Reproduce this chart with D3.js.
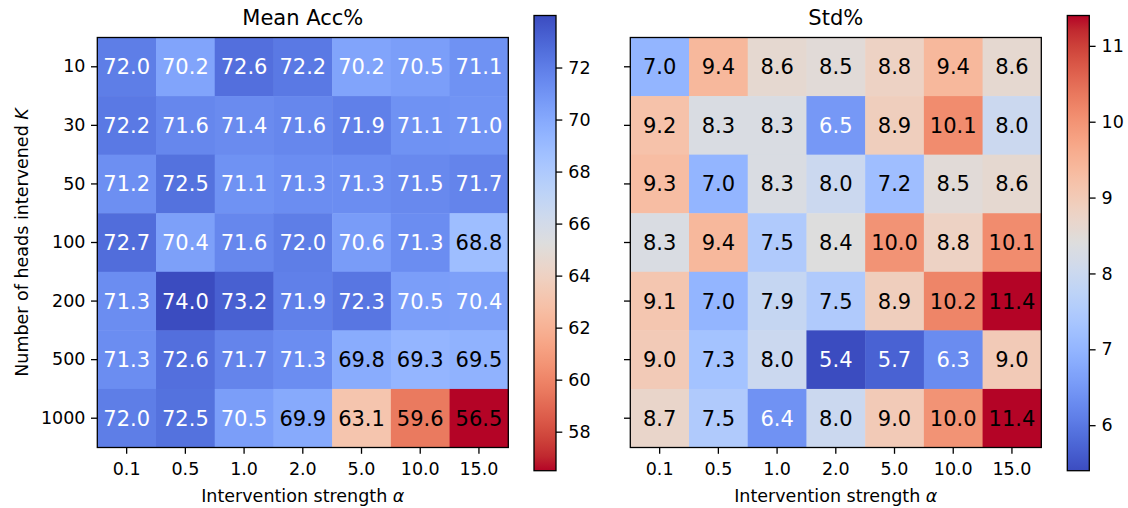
<!DOCTYPE html>
<html>
<head>
<meta charset="utf-8">
<script src="https://cdn.jsdelivr.net/npm/d3@7"></script>
<style>
    body { margin: 0; background: #fff; }
    svg text { font-family: "DejaVu Sans", sans-serif; fill: #000; }
</style>
</head>
<body>
<div id="chart"></div>
<script>
const alphaLabels = ["0.1", "0.5", "1.0", "2.0", "5.0", "10.0", "15.0"];
const headCounts = ["10", "30", "50", "100", "200", "500", "1000"];

const meanAcc = [
    [72.0, 70.2, 72.6, 72.2, 70.2, 70.5, 71.1],
    [72.2, 71.6, 71.4, 71.6, 71.9, 71.1, 71.0],
    [71.2, 72.5, 71.1, 71.3, 71.3, 71.5, 71.7],
    [72.7, 70.4, 71.6, 72.0, 70.6, 71.3, 68.8],
    [71.3, 74.0, 73.2, 71.9, 72.3, 70.5, 70.4],
    [71.3, 72.6, 71.7, 71.3, 69.8, 69.3, 69.5],
    [72.0, 72.5, 70.5, 69.9, 63.1, 59.6, 56.5]
];

const stdAcc = [
    [7.0, 9.4, 8.6, 8.5, 8.8, 9.4, 8.6],
    [9.2, 8.3, 8.3, 6.5, 8.9, 10.1, 8.0],
    [9.3, 7.0, 8.3, 8.0, 7.2, 8.5, 8.6],
    [8.3, 9.4, 7.5, 8.4, 10.0, 8.8, 10.1],
    [9.1, 7.0, 7.9, 7.5, 8.9, 10.2, 11.4],
    [9.0, 7.3, 8.0, 5.4, 5.7, 6.3, 9.0],
    [8.7, 7.5, 6.4, 8.0, 9.0, 10.0, 11.4]
];

const accTicks = [58, 60, 62, 64, 66, 68, 70, 72];
const stdTicks = [6, 7, 8, 9, 10, 11];

// matplotlib "coolwarm" (Moreland), blue -> red
const coolwarmStops = [
    "rgb(59,76,192)", "rgb(68,90,204)", "rgb(77,104,215)", "rgb(87,117,225)",
    "rgb(98,130,234)", "rgb(108,142,241)", "rgb(119,154,247)", "rgb(130,165,251)",
    "rgb(141,176,254)", "rgb(152,185,255)", "rgb(163,194,255)", "rgb(174,201,253)",
    "rgb(184,208,249)", "rgb(194,213,244)", "rgb(204,217,238)", "rgb(213,219,230)",
    "rgb(221,221,221)", "rgb(229,216,209)", "rgb(236,211,198)", "rgb(241,204,185)",
    "rgb(245,196,173)", "rgb(247,187,160)", "rgb(247,177,148)", "rgb(247,166,135)",
    "rgb(244,154,123)", "rgb(241,141,111)", "rgb(236,127,99)", "rgb(229,112,88)",
    "rgb(222,96,77)", "rgb(213,80,66)", "rgb(203,62,56)", "rgb(192,40,47)",
    "rgb(180,4,38)"
];

const coolwarm = d3.scaleLinear()
    .domain(coolwarmStops.map((d, i) => i / (coolwarmStops.length - 1)))
    .range(coolwarmStops)
    .interpolate(d3.interpolateRgb)
    .clamp(true);

const width = 1128, height = 508;
const tickLen = 6.3;

function heatmap() {

    let left = 0,
        top = 37.5,
        size = 411,
        cbLeft = 0,
        cbTop = 15.5,
        cbHeight = 455.2,
        cbWidth = 22,
        title = "",
        values = [],
        colorTicks = [],
        reversed = false,
        rowLabels = true;

    function chart(selection) {
        selection.each(function () {
            const svg = d3.select(this);
            const g = svg.append("g");

            const extent = d3.extent(values.flat());
            // position in the colormap, 0 = blue end
            const norm = d3.scaleLinear()
                .domain(extent)
                .range(reversed ? [1, 0] : [0, 1]);

            const xScale = d3.scaleBand()
                .domain(alphaLabels)
                .range([left, left + size]);

            const yScale = d3.scaleBand()
                .domain(headCounts)
                .range([top, top + size - 1]);

            const cells = [];
            values.forEach((row, i) => row.forEach((v, j) => {
                cells.push({row: headCounts[i], col: alphaLabels[j], value: v});
            }));

            g.append("g")
                .selectAll("rect")
                .data(cells)
                .enter().append("rect")
                .attr("x", d => xScale(d.col))
                .attr("y", d => yScale(d.row))
                .attr("width", xScale.bandwidth() + 0.5)
                .attr("height", yScale.bandwidth() + 0.5)
                .attr("fill", d => coolwarm(norm(d.value)));

            g.append("g")
                .selectAll("text")
                .data(cells)
                .enter().append("text")
                .attr("x", d => xScale(d.col) + xScale.bandwidth() / 2)
                .attr("y", d => yScale(d.row) + yScale.bandwidth() / 2)
                .attr("dy", "0.36em")
                .attr("text-anchor", "middle")
                .style("font-size", "21px")
                .style("fill", d => norm(d.value) < 0.225 ? "#fff" : "#000")
                .text(d => d.value.toFixed(1));

            g.append("rect")
                .attr("x", left)
                .attr("y", top)
                .attr("width", size)
                .attr("height", size - 1)
                .attr("fill", "none")
                .attr("stroke", "#000")
                .attr("stroke-width", 1.3);

            const xAxis = d3.axisBottom(xScale)
                .tickSize(tickLen)
                .tickPadding(8.5)
                .tickSizeOuter(0);

            const gXAxis = g.append("g")
                .attr("class", "x axis")
                .attr("transform", `translate(0,${top + size - 1})`)
                .call(xAxis);

            const yAxis = d3.axisLeft(yScale)
                .tickSize(tickLen)
                .tickPadding(5.5)
                .tickSizeOuter(0);
            if (!rowLabels) yAxis.tickFormat("");

            const gYAxis = g.append("g")
                .attr("class", "y axis")
                .attr("transform", `translate(${left},0)`)
                .call(yAxis);

            [gXAxis, gYAxis].forEach(ax => {
                ax.select(".domain").remove();
                ax.selectAll("line").attr("stroke", "#000").attr("stroke-width", 1.3);
                ax.selectAll("text").style("font-size", "17.5px").attr("fill", "#000");
            });

            g.append("text")
                .attr("x", left + size / 2)
                .attr("y", 25)
                .attr("text-anchor", "middle")
                .style("font-size", "21px")
                .text(title);

            const xLabel = g.append("text")
                .attr("x", left + size / 2)
                .attr("y", 502)
                .attr("text-anchor", "middle")
                .style("font-size", "17.5px");
            xLabel.append("tspan").text("Intervention strength ");
            xLabel.append("tspan").style("font-style", "italic").text("α");

            // colorbar
            const gradId = "grad-" + (reversed ? "r" : "n");
            const grad = svg.append("defs").append("linearGradient")
                .attr("id", gradId)
                .attr("x1", 0).attr("y1", 1)
                .attr("x2", 0).attr("y2", 0);
            grad.selectAll("stop")
                .data(d3.range(65).map(i => i / 64))
                .enter().append("stop")
                .attr("offset", d => d)
                .attr("stop-color", d => coolwarm(reversed ? 1 - d : d));

            g.append("rect")
                .attr("x", cbLeft)
                .attr("y", cbTop)
                .attr("width", cbWidth)
                .attr("height", cbHeight)
                .attr("fill", `url(#${gradId})`)
                .attr("stroke", "#000")
                .attr("stroke-width", 1.3);

            const cbScale = d3.scaleLinear()
                .domain(extent)
                .range([cbTop + cbHeight, cbTop]);

            const gCb = g.append("g")
                .attr("transform", `translate(${cbLeft + cbWidth},0)`)
                .call(d3.axisRight(cbScale)
                    .tickValues(colorTicks)
                    .tickFormat(d3.format("d"))
                    .tickSize(tickLen)
                    .tickPadding(6));
            gCb.select(".domain").remove();
            gCb.selectAll("line").attr("stroke", "#000").attr("stroke-width", 1.3);
            gCb.selectAll("text").style("font-size", "17.5px").attr("fill", "#000");
        });
    }

    chart.left = function (value) {
        if (!arguments.length) return left;
        left = value;
        return chart;
    };

    chart.cbLeft = function (value) {
        if (!arguments.length) return cbLeft;
        cbLeft = value;
        return chart;
    };

    chart.title = function (value) {
        if (!arguments.length) return title;
        title = value;
        return chart;
    };

    chart.values = function (value) {
        if (!arguments.length) return values;
        values = value;
        return chart;
    };

    chart.colorTicks = function (value) {
        if (!arguments.length) return colorTicks;
        colorTicks = value;
        return chart;
    };

    chart.reversed = function (value) {
        if (!arguments.length) return reversed;
        reversed = value;
        return chart;
    };

    chart.rowLabels = function (value) {
        if (!arguments.length) return rowLabels;
        rowLabels = value;
        return chart;
    };

    return chart;
}

const svg = d3.select("#chart").append("svg")
    .attr("width", width)
    .attr("height", height);

svg.call(heatmap()
    .left(97.3)
    .cbLeft(534)
    .title("Mean Acc%")
    .values(meanAcc)
    .colorTicks(accTicks)
    .reversed(true));

svg.call(heatmap()
    .left(630.3)
    .cbLeft(1067.3)
    .title("Std%")
    .values(stdAcc)
    .colorTicks(stdTicks)
    .rowLabels(false));

const yLabel = svg.append("text")
    .attr("transform", "translate(28,242.5) rotate(-90)")
    .attr("text-anchor", "middle")
    .style("font-size", "17.5px");
yLabel.append("tspan").text("Number of heads intervened ");
yLabel.append("tspan").style("font-style", "italic").text("K");
</script>
</body>
</html>
